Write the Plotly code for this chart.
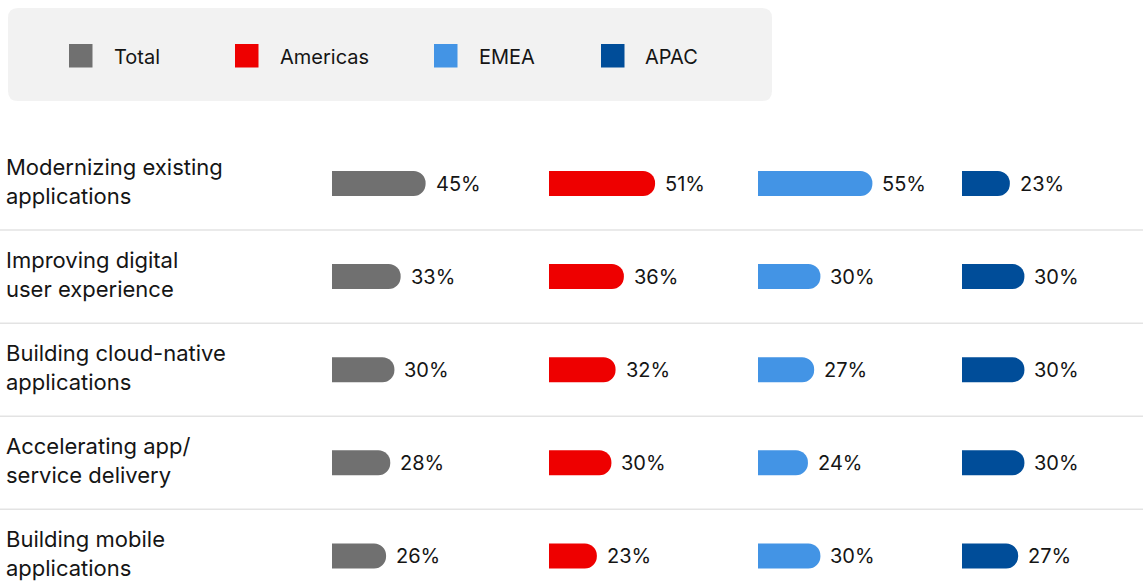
import plotly.graph_objects as go

# ---- data ----
categories = [
    "Modernizing existing<br>applications",
    "Improving digital<br>user experience",
    "Building cloud-native<br>applications",
    "Accelerating app/<br>service delivery",
    "Building mobile<br>applications",
]
series_names = ["Total", "Americas", "EMEA", "APAC"]
total = [45, 33, 30, 28, 26]
americas = [51, 36, 32, 30, 23]
emea = [55, 30, 27, 24, 30]
apac = [23, 30, 30, 30, 27]
series_values = [total, americas, emea, apac]
colors = ["#707070", "#ee0000", "#4394e5", "#004d99"]

# ---- layout constants (pixels) ----
W, H = 1143, 585
FONT = "Inter"
TXT = "#151515"
PX_PER_PCT = 2.08
col_px = [332, 549, 758, 962, 1143]   # column starts (and right end)
row0_px, row_step = 183.5, 93.1
bar_px = 25

fig = go.Figure()

layout_axes = {}
annotations = []
for k, (name, vals, col) in enumerate(zip(series_names, series_values, colors)):
    ax = "" if k == 0 else str(k + 1)
    fig.add_trace(go.Bar(
        x=vals, y=list(range(len(categories))), orientation="h",
        xaxis="x" + ax, yaxis="y",
        marker=dict(color=col, cornerradius=12, line=dict(width=0)),
        width=bar_px / row_step, name=name, showlegend=False,
        hoverinfo="x+name",
    ))
    x0, x1 = col_px[k], col_px[k + 1]
    layout_axes["xaxis" + ax] = dict(
        domain=[x0 / W, x1 / W], range=[0, (x1 - x0) / PX_PER_PCT],
        anchor="y", showgrid=False, zeroline=False, showticklabels=False,
        showline=False, fixedrange=True,
    )
    for i, v in enumerate(vals):
        annotations.append(dict(
            x=v, y=i, xref="x" + ax, yref="y", text=f"{v}%",
            xanchor="left", yanchor="middle", xshift=8, showarrow=False,
            font=dict(family=FONT, size=20, color=TXT),
        ))

# category labels
for i, c in enumerate(categories):
    annotations.append(dict(
        x=4 / W, y=i, xref="paper", yref="y", text=c, align="left",
        xanchor="left", yanchor="middle", yshift=2, showarrow=False,
        font=dict(family=FONT, size=22, color=TXT),
    ))

shapes = []
# row separators
for i in range(len(categories) - 1):
    shapes.append(dict(type="line", xref="paper", yref="y", x0=0, x1=1,
                       y0=i + 0.5, y1=i + 0.5,
                       line=dict(color="#e3e3e3", width=1.5), layer="below"))

# legend box (rounded)
shapes.append(dict(
    type="path", xref="paper", yref="paper", xsizemode="pixel", ysizemode="pixel",
    xanchor=0, yanchor=1,
    path="M 18,-8 H 762 Q 772,-8 772,-18 V -91 Q 772,-101 762,-101 H 18 "
         "Q 8,-101 8,-91 V -18 Q 8,-8 18,-8 Z",
    fillcolor="#f2f2f2", line=dict(width=0), layer="below",
))
leg_sq_px = [69, 235, 434, 601]
leg_txt_px = [114, 280, 479, 645]
for name, col, sx, tx in zip(series_names, colors, leg_sq_px, leg_txt_px):
    shapes.append(dict(type="rect", xref="paper", yref="paper",
                       x0=sx / W, x1=(sx + 23.5) / W,
                       y0=1 - 67.5 / H, y1=1 - 44 / H,
                       fillcolor=col, line=dict(width=0)))
    annotations.append(dict(
        x=(tx - 2) / W, y=1 - 57 / H, xref="paper", yref="paper", text=name,
        xanchor="left", yanchor="middle", showarrow=False,
        font=dict(family=FONT, size=20, color=TXT),
    ))

y_top = -row0_px / row_step
y_bot = (H - row0_px) / row_step
fig.update_layout(
    width=W, height=H, margin=dict(l=0, r=0, t=0, b=0),
    paper_bgcolor="white", plot_bgcolor="rgba(0,0,0,0)",
    barmode="overlay", showlegend=False,
    yaxis=dict(range=[y_bot, y_top], domain=[0, 1], showgrid=False,
               zeroline=False, showticklabels=False, fixedrange=True),
    shapes=shapes, annotations=annotations,
    **layout_axes,
)

fig.write_html("out.html", config={"displayModeBar": False},
               post_script="document.body.style.margin='0';")
